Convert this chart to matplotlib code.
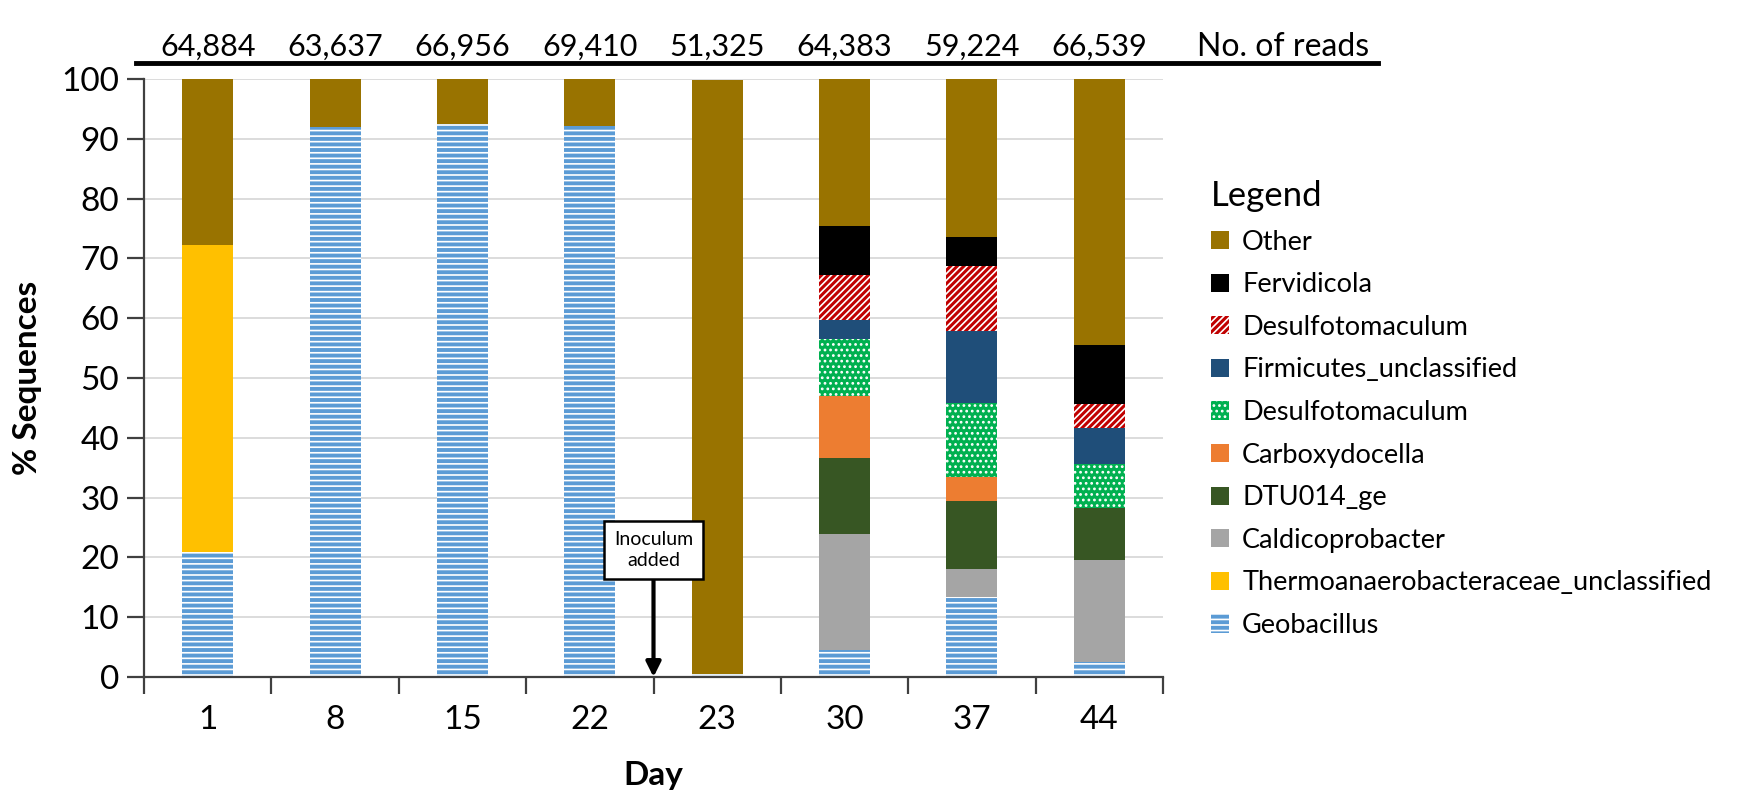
import matplotlib.pyplot as plt
import matplotlib.transforms as mtransforms
from matplotlib.patches import Patch
from matplotlib.lines import Line2D
import numpy as np

plt.rcParams['font.family'] = ['Lato', 'DejaVu Sans']
plt.rcParams['hatch.linewidth'] = 1.2

days = ['1', '8', '15', '22', '23', '30', '37', '44']
reads = [64884, 63637, 66956, 69410, 51325, 64383, 59224, 66539]

# % of sequences per genus (bottom -> top of each bar)
geobacillus = [20.9, 92.0, 92.5, 92.2, 0.5, 4.5, 13.3, 2.5]
thermoanaero = [51.4, 0, 0, 0, 0, 0, 0, 0]
caldicoprobacter = [0, 0, 0, 0, 0, 19.4, 4.7, 17.0]
dtu014 = [0, 0, 0, 0, 0, 12.7, 11.4, 8.7]
carboxydocella = [0, 0, 0, 0, 0, 10.4, 4.0, 0]
desulfo_green = [0, 0, 0, 0, 0, 9.5, 12.5, 7.4]
firmicutes = [0, 0, 0, 0, 0, 3.2, 12.0, 6.0]
desulfo_red = [0, 0, 0, 0, 0, 7.5, 10.9, 4.0]
fervidicola = [0, 0, 0, 0, 0, 8.3, 4.8, 10.0]
other = [27.7, 8.0, 7.5, 7.8, 99.3, 24.5, 26.4, 44.4]

# (name, values, colour, hatch)
series = [
    ('Geobacillus', geobacillus, '#5B9BD5', '---'),
    ('Thermoanaerobacteraceae_unclassified', thermoanaero, '#FFC000', None),
    ('Caldicoprobacter', caldicoprobacter, '#A5A5A5', None),
    ('DTU014_ge', dtu014, '#375623', None),
    ('Carboxydocella', carboxydocella, '#ED7D31', None),
    ('Desulfotomaculum', desulfo_green, '#00B050', '...'),
    ('Firmicutes_unclassified', firmicutes, '#1F4E79', None),
    ('Desulfotomaculum', desulfo_red, '#C00000', '/////'),
    ('Fervidicola', fervidicola, '#000000', None),
    ('Other', other, '#997300', None),
]

W, H = 1743, 810
fig = plt.figure(figsize=(W / 100, H / 100), dpi=100)
ax = fig.add_axes([144 / W, 1 - 677 / H, (1163 - 144) / W, (677 - 79) / H])

x = np.arange(len(days))
bottom = np.zeros(len(days))
handles = []
for name, vals, col, hatch in series:
    vals = np.array(vals, dtype=float)
    if hatch:
        ax.bar(x, vals, 0.4, bottom=bottom, color=col, edgecolor='white',
               linewidth=0, hatch=hatch)
        h = Patch(facecolor=col, edgecolor='white', linewidth=0, hatch=hatch, label=name)
    else:
        ax.bar(x, vals, 0.4, bottom=bottom, color=col, linewidth=0)
        h = Patch(facecolor=col, linewidth=0, label=name)
    handles.append(h)
    bottom += vals

ax.set_xlim(-0.5, len(days) - 0.5)
ax.set_ylim(0, 100)
ax.set_yticks(range(0, 101, 10))
ax.yaxis.grid(True, color='#D9D9D9', lw=1.3)
ax.set_axisbelow(True)
for s in ['top', 'right']:
    ax.spines[s].set_visible(False)
for s in ['left', 'bottom']:
    ax.spines[s].set_color('#404040')
    ax.spines[s].set_linewidth(1.6)

ax.set_xticks(x)
ax.set_xticklabels(days)
ax.set_xticks(np.arange(-0.5, len(days), 1), minor=True)
ax.tick_params(axis='x', which='major', length=0, pad=20, labelsize=24)
ax.tick_params(axis='x', which='minor', length=12, width=1.6, color='#404040')
ax.tick_params(axis='y', length=12, width=1.6, color='#404040', pad=6, labelsize=24)

ax.set_ylabel('% Sequences', fontsize=24, fontweight='bold')
ax.yaxis.set_label_coords(-0.1, 0.5)
ax.set_xlabel('Day', fontsize=24, fontweight='bold')
ax.xaxis.set_label_coords(0.5, -0.14)

# read counts on top
trans = mtransforms.blended_transform_factory(ax.transData, fig.transFigure)
for xi, r in zip(x, reads):
    ax.text(xi, 1 - 47 / H, f'{r:,}', transform=trans, ha='center', va='center',
            fontsize=22)
fig.text(1283 / W, 1 - 47 / H, 'No. of reads', ha='center', va='center', fontsize=23)
fig.add_artist(Line2D([136 / W, 1378 / W], [1 - 63 / H] * 2, color='black', lw=3.5))

# inoculum annotation
ax.annotate('Inoculum\nadded', xy=(3.5, 0), xytext=(3.5, 21.2), ha='center', va='center',
            fontsize=14, linespacing=1.3,
            bbox=dict(boxstyle='square,pad=0.5', fc='white', ec='black', lw=1.8),
            arrowprops=dict(arrowstyle='-|>', color='black', lw=3, mutation_scale=22,
                            shrinkA=0, shrinkB=0))

leg = fig.legend(handles[::-1], [h.get_label() for h in handles[::-1]],
                 loc='upper left', bbox_to_anchor=(1211 / W, 1 - 180 / H),
                 frameon=False, fontsize=19.5, title='Legend', title_fontsize=25,
                 alignment='left', handlelength=0.65, handleheight=0.65,
                 handletextpad=0.5, labelspacing=0.65, borderpad=0, borderaxespad=0)

fig.savefig('out.png', dpi=100)
